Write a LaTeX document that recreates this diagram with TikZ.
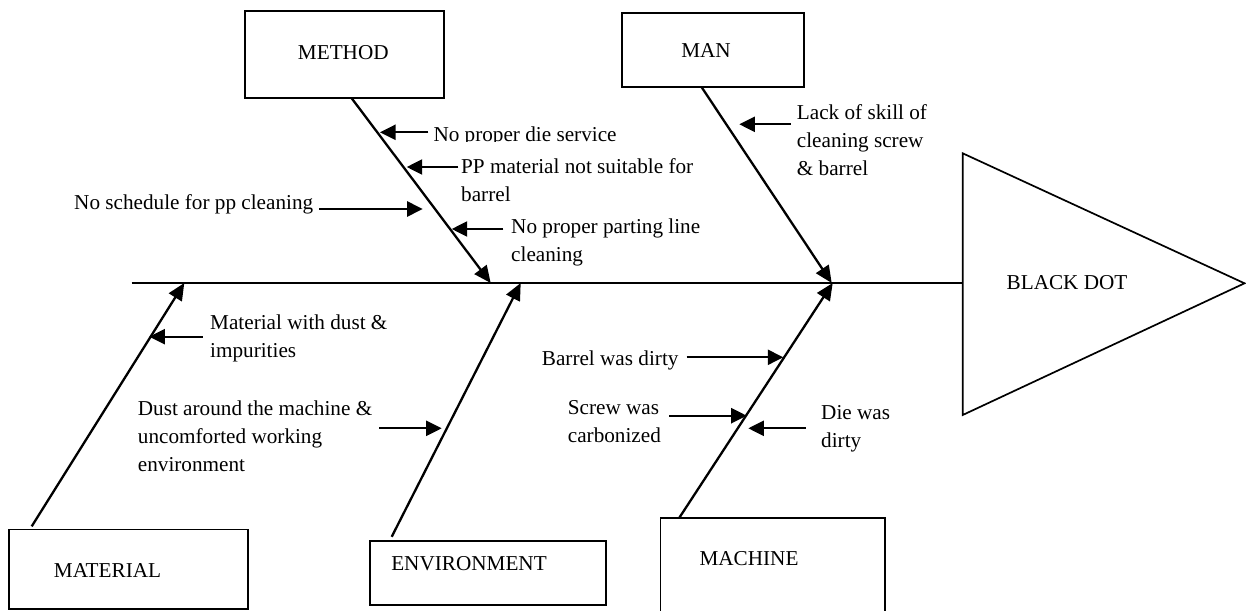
\documentclass[tikz,border=0pt]{standalone}
\usepackage{fontspec}
\setmainfont{Liberation Serif}
\usetikzlibrary{arrows.meta}
\tikzset{
  box/.style={draw, line width=1.7pt, inner sep=0pt, outer sep=0pt},
  lbl/.style={inner sep=0pt, font=\fontsize{21.2pt}{28pt}\selectfont},
  txt/.style={inner sep=0pt, anchor=west, align=left, font=\fontsize{21.2pt}{28pt}\selectfont},
  branch/.style={line width=2.3pt, -{Triangle[length=17pt,width=15pt]}},
  cause/.style={line width=2.3pt, -{Triangle[length=15.5pt,width=15pt]}},
  spineline/.style={line width=1.7pt}
}
\begin{document}
\begin{tikzpicture}[x=1pt,y=-1pt]
\useasboundingbox (0,0) rectangle (1246,610);

% boxes
\node[box, minimum width=199pt, minimum height=87pt] (method) at (344.2,54.8) {};
\node[box, minimum width=182.6pt, minimum height=74pt] (man) at (713,50.3) {};
\node[box, minimum width=238.4pt, minimum height=79.7pt] (material) at (128.5,569.2) {};
\node[box, minimum width=236pt, minimum height=64.3pt] (environment) at (488,572.9) {};
\node[box, minimum width=224.7pt, minimum height=102.3pt] (machine) at (772.7,568.9) {};

% box labels
\node[lbl] (methodtxt) at (343.3,53) {METHOD};
\node[lbl] (mantxt) at (706,51) {MAN};
\node[lbl] (materialtxt) at (107.5,570) {MATERIAL};
\node[lbl] (environmenttxt) at (469,563.3) {ENVIRONMENT};
\node[lbl] (machinetxt) at (749,558.3) {MACHINE};

% head triangle
\coordinate (head) at (962.7,283.3);
\coordinate (tail) at (131.7,283.3);
\draw[line width=1.7pt, line join=miter] (962.7,153.3) -- (1244.5,283.3) -- (962.7,415) -- cycle;
\node[lbl] (effect) at (1067,283) {BLACK DOT};

% spine
\draw[spineline] (tail) -- (head);

% spine junctions
\coordinate (jmethod) at (490.7,283);
\coordinate (jman) at (831.7,283);
\coordinate (jmaterial) at (184.3,283);
\coordinate (jenv) at (520.7,283);
\coordinate (jmachine) at (832.7,283);

% branches
\draw[branch] ([xshift=7.5pt]method.south) -- (jmethod);
\draw[branch] ([xshift=-11.3pt]man.south) -- (jman);
\draw[branch] ([xshift=-96.8pt,yshift=3pt]material.north) -- (jmaterial);
\draw[branch] ([xshift=-96.3pt,yshift=4pt]environment.north) -- (jenv);
\draw[branch] ([xshift=-93.4pt]machine.north) -- (jmachine);

% cause texts
\begin{scope}
  \clip (420,100) rectangle (720,141.5);
  \node[txt] (c1) at (433.3,136) {No proper die service};
\end{scope}
\node[txt] (c2) at (461,180) {PP material not suitable for\\barrel};
\node[txt] (c3) at (74,204.3) {No schedule for pp cleaning};
\node[txt] (c4) at (511,242) {No proper parting line\\cleaning};
\node[txt] (c5) at (796.7,140) {Lack of skill of\\cleaning screw\\\& barrel};
\node[txt] (c6) at (210,338) {Material with dust \&\\impurities};
\node[txt] (c7) at (137.7,436) {Dust around the machine \&\\uncomforted working\\environment};
\node[txt] (c8) at (541.7,360.3) {Barrel was dirty};
\node[txt] (c9) at (567.7,421.5) {Screw was\\carbonized};
\node[txt] (c10) at (821,428.5) {Die was\\dirty};

% cause arrow ends
\coordinate (a1s) at (428.3,132.3); \coordinate (a1e) at (380,132.3);
\coordinate (a2s) at (458.3,167);   \coordinate (a2e) at (406.7,167);
\coordinate (a3s) at (319.3,209);   \coordinate (a3e) at (422.7,209);
\coordinate (a4s) at (503.3,229);   \coordinate (a4e) at (451.7,229);
\coordinate (a5s) at (790.7,124.3); \coordinate (a5e) at (739.3,124.3);
\coordinate (a6s) at (202.7,336.7); \coordinate (a6e) at (149.3,336.7);
\coordinate (a7s) at (379,428.3);   \coordinate (a7e) at (441.7,428.3);
\coordinate (a8s) at (686.7,357.3); \coordinate (a8e) at (783.3,357.3);
\coordinate (a9s) at (669,415.7);   \coordinate (a9e) at (746.7,415.7);
\coordinate (a10s) at (805.7,428.3); \coordinate (a10e) at (748.3,428.3);

\foreach \i in {1,...,10} { \draw[cause] (a\i s) -- (a\i e); }
\end{tikzpicture}
\end{document}
